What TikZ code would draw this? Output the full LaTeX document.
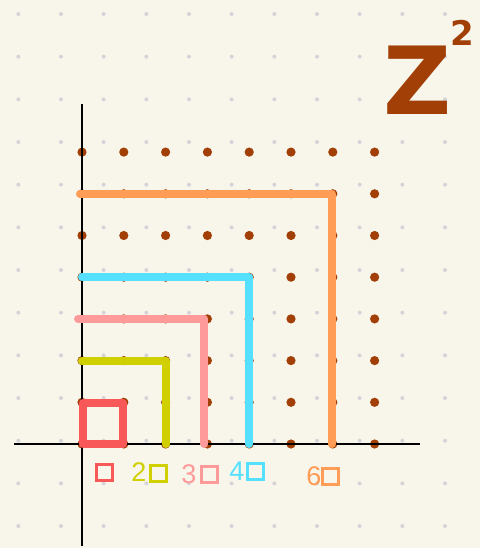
\documentclass[tikz,border=0pt]{standalone}
\usepackage{fontspec}
\setmainfont{Liberation Sans}
\newfontfamily\zfont{DejaVu Sans}
\definecolor{bg}{HTML}{F8F6EB}
\definecolor{gdot}{HTML}{D4D4D8}
\definecolor{brn}{HTML}{A13F06}
\definecolor{cred}{HTML}{F85858}
\definecolor{cyel}{HTML}{D0D000}
\definecolor{cpink}{HTML}{FF9A9A}
\definecolor{ccyan}{HTML}{55E0FF}
\definecolor{corg}{HTML}{FF9C55}
\tikzset{
  gridpt/.style={fill=gdot},
  latpt/.style={fill=brn},
  axisline/.style={draw=black, line width=2.6pt},
  hook/.style={line width=8pt, line cap=round, line join=round},
  lab/.style={font=\fontsize{27}{27}\selectfont, inner sep=0pt, anchor=center},
  labsq/.style={draw, line width=3pt, minimum size=16pt, inner sep=0pt}
}
\begin{document}
\begin{tikzpicture}[x=1pt, y=-1pt]
  \fill[bg] (0,0) rectangle (480,548);
  \useasboundingbox (0,0) rectangle (480,548);
  % background grid dots
  \foreach \i in {0,...,10}{
    \foreach \j in {0,...,12}{
      \fill[gridpt] (18.3+42.67*\i, 14+42.67*\j) circle (2pt);
    }
  }
  % lattice coordinates and dots
  \foreach \i in {0,...,7}{
    \foreach \j in {0,...,7}{
      \coordinate (p-\i-\j) at (82+41.8*\i, 444-41.7*\j);
      \fill[latpt] (p-\i-\j) circle (4.6pt);
    }
  }
  % axes
  \coordinate (ytop) at (82,104);
  \coordinate (ybot) at (82,546);
  \coordinate (xl) at (14,444);
  \coordinate (xr) at (420,444);
  \draw[axisline] (ytop) -- (ybot);
  \draw[axisline] (xl) -- (xr);
  % hooks
  \draw[hook, cred] ([xshift=1pt]p-0-0) rectangle ([xshift=-1pt,yshift=-1pt]p-1-1);
  \draw[hook, cyel] (p-0-2) -- (p-2-2) -- (p-2-0);
  \draw[hook, cpink] ([xshift=-4pt]p-0-3) -- ([xshift=-3pt]p-3-3) -- ([xshift=-3pt]p-3-0);
  \draw[hook, ccyan] (p-0-4) -- (p-4-4) -- (p-4-0);
  \draw[hook, corg] ([xshift=-2pt]p-0-6) -- ([xshift=-1pt]p-6-6) -- ([xshift=-1pt]p-6-0);
  % labels
  \node[labsq, cred] (s1) at (104,472) {};
  \node[lab, cyel] (n2) at (139,472) {2};
  \node[labsq, cyel] (s2) at (158,473) {};
  \node[lab, cpink] (n3) at (189,474) {3};
  \node[labsq, cpink] (s3) at (209,474) {};
  \node[lab, ccyan] (n4) at (237,471) {4};
  \node[labsq, ccyan] (s4) at (255,471) {};
  \node[lab, corg] (n6) at (314,476) {6};
  \node[labsq, corg] (s6) at (330,476) {};
  % Z^2
  \node[brn, inner sep=0pt, font=\zfont\bfseries\fontsize{94}{94}\selectfont] (zz) at (418,80) {Z};
  \node[brn, inner sep=0pt, font=\zfont\bfseries\fontsize{34}{34}\selectfont] (sq) at (462,33) {2};
\end{tikzpicture}
\end{document}
